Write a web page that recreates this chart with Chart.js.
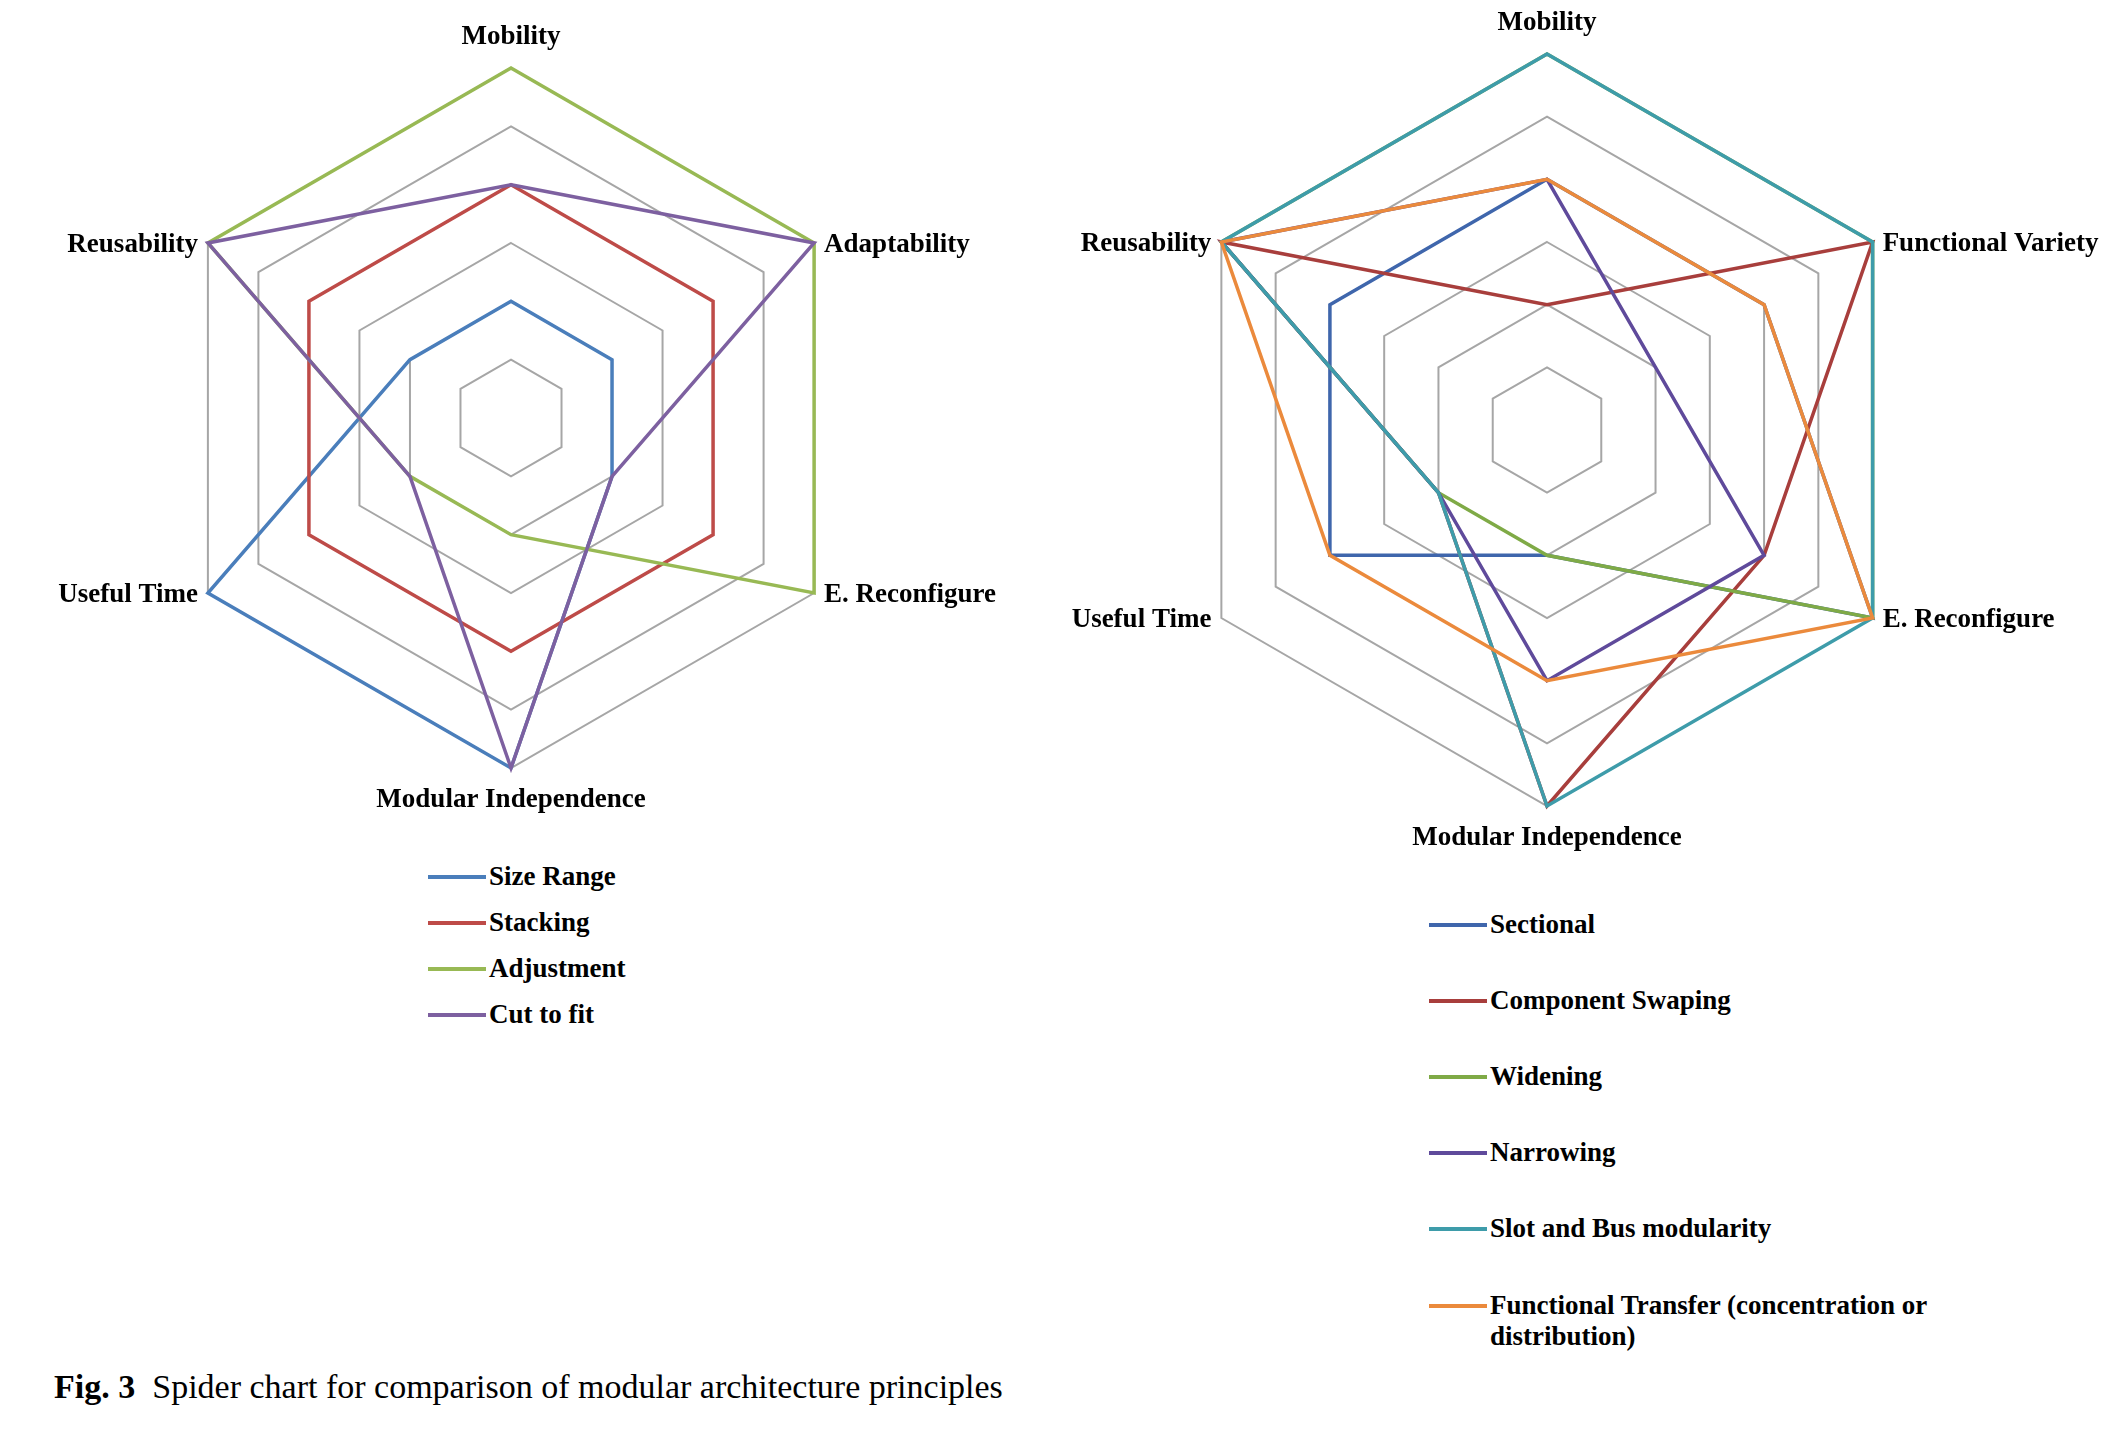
<!DOCTYPE html>
<html>
<head>
<meta charset="utf-8">
<title>Spider chart for comparison of modular architecture principles</title>
<script src="https://cdn.jsdelivr.net/npm/chart.js@4.4.1/dist/chart.umd.min.js"></script>
<style>
    html, body { margin: 0; padding: 0; background: #fff; }
    body {
        width: 2121px; height: 1446px; position: relative; overflow: hidden;
        font-family: "Liberation Serif", "Times New Roman", serif; color: #000;
    }
    canvas { position: absolute; top: 0; }
    #leftChart { left: 0; }
    #rightChart { left: 1040px; }
    .legend { position: absolute; font-weight: bold; font-size: 27px; line-height: 31px; }
    .legend .row { position: absolute; left: 0; display: flex; align-items: flex-start; }
    .legend .swatch { width: 58px; height: 4px; margin-top: 14px; margin-right: 3px; flex: none; }
    .legend .text { width: 470px; }
    #caption { position: absolute; left: 54px; top: 1368px; font-size: 34px; white-space: pre; }
</style>
</head>
<body>
<canvas id="leftChart" width="1040" height="830"></canvas>
<canvas id="rightChart" width="1081" height="880"></canvas>
<div class="legend" id="leftLegend" style="left:428px; top:0;"></div>
<div class="legend" id="rightLegend" style="left:1429px; top:0;"></div>
<div id="caption"><b>Fig. 3</b>  Spider chart for comparison of modular architecture principles</div>

<script>
"use strict";

// left chart
const leftAxes = ["Mobility", "Adaptability", "E. Reconfigure", "Modular Independence", "Useful Time", "Reusability"];
const leftNames = ["Size Range", "Stacking", "Adjustment", "Cut to fit"];
const sizeRange = [2, 2, 2, 6, 6, 2];
const stacking = [4, 4, 4, 4, 4, 4];
const adjustment = [6, 6, 6, 2, 2, 6];
const cutToFit = [4, 6, 2, 6, 2, 6];

// right chart
const rightAxes = ["Mobility", "Functional Variety", "E. Reconfigure", "Modular Independence", "Useful Time", "Reusability"];
const rightNames = ["Sectional", "Component Swaping", "Widening", "Narrowing", "Slot and Bus modularity",
    "Functional Transfer (concentration or distribution)"];
const sectional = [4, 4, 6, 2, 4, 4];
const componentSwaping = [2, 6, 4, 6, 2, 6];
const widening = [6, 6, 6, 2, 2, 6];
const narrowing = [4, 2, 4, 4, 2, 6];
const slotAndBus = [6, 6, 6, 6, 2, 6];
const functionalTransfer = [4, 4, 6, 4, 4, 6];

const scaleTicks = [0, 1, 2, 3, 4, 5, 6];

const leftColors = ["#4A7EBB", "#BE4B48", "#98B954", "#7D60A0"];
const rightColors = ["#3F66AC", "#A83E3C", "#7FAA46", "#5F4A9B", "#3E9CAA", "#EB8A3C"];

Chart.defaults.font.family = "'Liberation Serif', 'Times New Roman', serif";

// axis names are drawn next to the outer ring, at the positions the radial scale gives
const axisLabels = {
    id: "axisLabels",
    afterDraw(chart) {
        const scale = chart.scales.r;
        const ctx = chart.ctx;
        ctx.save();
        ctx.font = "bold 27px 'Liberation Serif'";
        ctx.fillStyle = "#000";
        chart.data.labels.forEach((label, i) => {
            const p = scale.getPointPosition(i, scale.drawingArea);
            const a = scale.getIndexAngle(i);
            const sx = Math.sin(a);
            ctx.textBaseline = "middle";
            if (Math.abs(sx) < 0.01) {
                ctx.textAlign = "center";
                ctx.fillText(label, p.x, Math.cos(a) > 0 ? p.y - 31 : p.y + 32);
            } else if (sx > 0) {
                ctx.textAlign = "left";
                ctx.fillText(label, p.x + 10, p.y + 2);
            } else {
                ctx.textAlign = "right";
                ctx.fillText(label, p.x - 10, p.y + 2);
            }
        });
        ctx.restore();
    }
};

function makeRadar(canvas, axes, names, series, colors, pad) {
    return new Chart(canvas, {
        type: "radar",
        data: {
            labels: axes,
            datasets: series.map((values, i) => ({
                label: names[i],
                data: values,
                borderColor: colors[i],
                backgroundColor: colors[i],
                borderWidth: 3.5,
                fill: false,
                pointRadius: 0,
                pointHoverRadius: 0,
                order: series.length - i // later series on top, like the original
            }))
        },
        options: {
            responsive: false,
            animation: false,
            layout: { padding: pad },
            plugins: { legend: { display: false }, tooltip: { enabled: false } },
            scales: {
                r: {
                    min: scaleTicks[0],
                    max: scaleTicks[scaleTicks.length - 1],
                    ticks: { display: false, stepSize: 1 },
                    angleLines: { display: false },
                    grid: { color: "#A6A6A6", lineWidth: 2 },
                    pointLabels: { display: false }
                }
            }
        },
        plugins: [axisLabels]
    });
}

makeRadar(document.getElementById("leftChart"), leftAxes, leftNames,
    [sizeRange, stacking, adjustment, cutToFit], leftColors,
    { left: 161, right: 179, top: 68, bottom: 62 });

makeRadar(document.getElementById("rightChart"), rightAxes, rightNames,
    [sectional, componentSwaping, widening, narrowing, slotAndBus, functionalTransfer], rightColors,
    { left: 131, right: 198, top: 54, bottom: 74 });

function buildLegend(el, names, colors, firstY, gap) {
    names.forEach((name, i) => {
        const row = document.createElement("div");
        row.className = "row";
        row.style.top = (firstY + i * gap - 15.5) + "px";
        const sw = document.createElement("div");
        sw.className = "swatch";
        sw.style.background = colors[i];
        const tx = document.createElement("div");
        tx.className = "text";
        tx.textContent = name;
        row.appendChild(sw);
        row.appendChild(tx);
        el.appendChild(row);
    });
}

buildLegend(document.getElementById("leftLegend"), leftNames, leftColors, 876, 46.2);
buildLegend(document.getElementById("rightLegend"), rightNames, rightColors, 924, 76.2);
</script>
</body>
</html>
